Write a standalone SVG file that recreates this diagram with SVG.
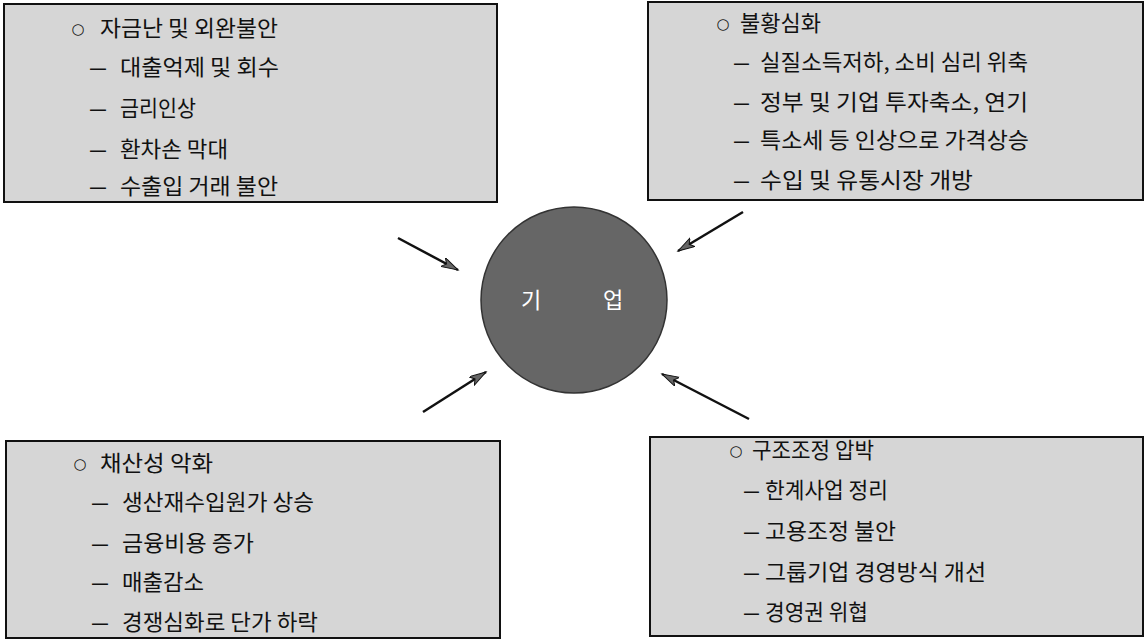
<svg xmlns="http://www.w3.org/2000/svg" width="1148" height="642" viewBox="0 0 1148 642">
<style>
.box{fill:#d6d6d6;stroke:#111;stroke-width:2}
.t{font-family:"Noto Sans CJK KR","Noto Sans",sans-serif;font-size:22px;fill:#111}
.d{font-family:"Liberation Sans",sans-serif;font-size:22px;fill:#111}
.o{font-family:"DejaVu Sans",sans-serif;font-size:15px;fill:#111;text-anchor:middle}
.w{font-family:"Noto Sans CJK KR","Noto Sans",sans-serif;font-size:22px;fill:#fff;text-anchor:middle}
.arr{stroke:#111;stroke-width:2.5;fill:none;marker-end:url(#ah)}
</style>
<defs>
<marker id="ah" markerUnits="userSpaceOnUse" markerWidth="20" markerHeight="12" refX="17" refY="5" orient="auto">
<path d="M0,0 L17,5 L0,10 L4,5 Z" fill="#666" stroke="#111" stroke-width="1"/>
</marker>
</defs>
<rect width="1148" height="642" fill="#fff"/>

<g id="node-funding">
<rect class="box" x="4" y="4" width="493" height="198"/>
<text class="o" x="78" y="34">○</text>
<text class="t" x="100" y="36" textLength="178" lengthAdjust="spacingAndGlyphs">자금난 및 외완불안</text>
<text class="d" x="90" y="75" textLength="16" lengthAdjust="spacingAndGlyphs">–</text>
<text class="t" x="120" y="75" textLength="159" lengthAdjust="spacingAndGlyphs">대출억제 및 회수</text>
<text class="d" x="90" y="116" textLength="16" lengthAdjust="spacingAndGlyphs">–</text>
<text class="t" x="120" y="116" textLength="76" lengthAdjust="spacingAndGlyphs">금리인상</text>
<text class="d" x="90" y="157" textLength="16" lengthAdjust="spacingAndGlyphs">–</text>
<text class="t" x="120" y="157" textLength="108" lengthAdjust="spacingAndGlyphs">환차손 막대</text>
<text class="d" x="90" y="194" textLength="16" lengthAdjust="spacingAndGlyphs">–</text>
<text class="t" x="120" y="194" textLength="158" lengthAdjust="spacingAndGlyphs">수출입 거래 불안</text>
</g>

<g id="node-recession">
<rect class="box" x="648" y="2" width="495" height="198"/>
<text class="o" x="723" y="29">○</text>
<text class="t" x="740" y="31" textLength="81" lengthAdjust="spacingAndGlyphs">불황심화</text>
<text class="d" x="734" y="70" textLength="15" lengthAdjust="spacingAndGlyphs">–</text>
<text class="t" x="760" y="70" textLength="268" lengthAdjust="spacingAndGlyphs">실질소득저하, 소비 심리 위축</text>
<text class="d" x="734" y="110" textLength="15" lengthAdjust="spacingAndGlyphs">–</text>
<text class="t" x="760" y="110" textLength="268" lengthAdjust="spacingAndGlyphs">정부 및 기업 투자축소, 연기</text>
<text class="d" x="734" y="148" textLength="15" lengthAdjust="spacingAndGlyphs">–</text>
<text class="t" x="760" y="148" textLength="269" lengthAdjust="spacingAndGlyphs">특소세 등 인상으로 가격상승</text>
<text class="d" x="734" y="188" textLength="15" lengthAdjust="spacingAndGlyphs">–</text>
<text class="t" x="760" y="188" textLength="213" lengthAdjust="spacingAndGlyphs">수입 및 유통시장 개방</text>
</g>

<g id="node-profit">
<rect class="box" x="6" y="441" width="494" height="197"/>
<text class="o" x="80" y="469">○</text>
<text class="t" x="100" y="471" textLength="113" lengthAdjust="spacingAndGlyphs">채산성 악화</text>
<text class="d" x="92" y="510" textLength="16" lengthAdjust="spacingAndGlyphs">–</text>
<text class="t" x="122" y="510" textLength="192" lengthAdjust="spacingAndGlyphs">생산재수입원가 상승</text>
<text class="d" x="92" y="551" textLength="16" lengthAdjust="spacingAndGlyphs">–</text>
<text class="t" x="122" y="551" textLength="132" lengthAdjust="spacingAndGlyphs">금융비용 증가</text>
<text class="d" x="92" y="590" textLength="16" lengthAdjust="spacingAndGlyphs">–</text>
<text class="t" x="122" y="590" textLength="82" lengthAdjust="spacingAndGlyphs">매출감소</text>
<text class="d" x="92" y="630" textLength="16" lengthAdjust="spacingAndGlyphs">–</text>
<text class="t" x="122" y="630" textLength="196" lengthAdjust="spacingAndGlyphs">경쟁심화로 단가 하락</text>
</g>

<g id="node-restructuring">
<rect class="box" x="650" y="437" width="493" height="199"/>
<text class="o" x="736" y="456">○</text>
<text class="t" x="752" y="458" textLength="122" lengthAdjust="spacingAndGlyphs">구조조정 압박</text>
<text class="d" x="744" y="498" textLength="15" lengthAdjust="spacingAndGlyphs">–</text>
<text class="t" x="765" y="498" textLength="123" lengthAdjust="spacingAndGlyphs">한계사업 정리</text>
<text class="d" x="744" y="539" textLength="15" lengthAdjust="spacingAndGlyphs">–</text>
<text class="t" x="765" y="539" textLength="131" lengthAdjust="spacingAndGlyphs">고용조정 불안</text>
<text class="d" x="744" y="580" textLength="15" lengthAdjust="spacingAndGlyphs">–</text>
<text class="t" x="765" y="580" textLength="221" lengthAdjust="spacingAndGlyphs">그룹기업 경영방식 개선</text>
<text class="d" x="744" y="620" textLength="15" lengthAdjust="spacingAndGlyphs">–</text>
<text class="t" x="765" y="620" textLength="103" lengthAdjust="spacingAndGlyphs">경영권 위협</text>
</g>

<g id="node-company">
<circle cx="574" cy="300" r="93" fill="#666" stroke="#333" stroke-width="1.5"/>
<text class="w" x="531" y="308">기</text>
<text class="w" x="613" y="308">업</text>
</g>

<g id="connectors">
<line class="arr" x1="398" y1="238" x2="458" y2="270"/>
<line class="arr" x1="743" y1="212" x2="678" y2="251"/>
<line class="arr" x1="423" y1="412" x2="486" y2="372"/>
<line class="arr" x1="749" y1="419" x2="662" y2="374"/>
</g>
</svg>
